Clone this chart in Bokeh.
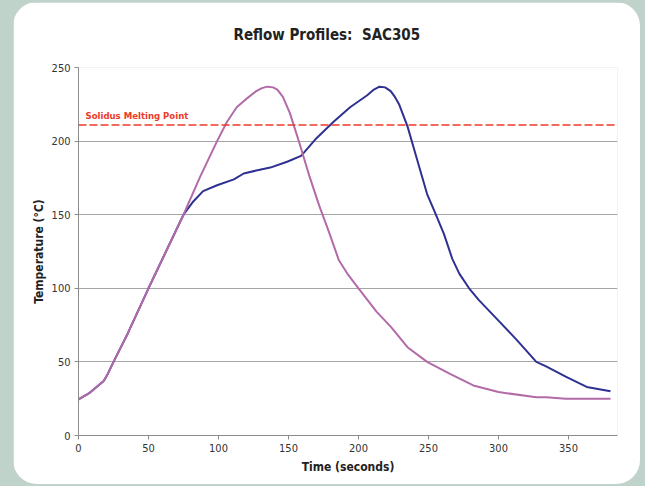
from bokeh.plotting import figure
from bokeh.layouts import column
from bokeh.models import Label, Span, FixedTicker
from bokeh.embed import file_html
from bokeh.resources import INLINE

title_text = "Reflow Profiles:\u00a0 SAC305"
x_label = "Time (seconds)"
y_label = "Temperature (\u00b0C)"
solidus_label = "Solidus Melting Point"
solidus_temp = 211

x_ticks = [0, 50, 100, 150, 200, 250, 300, 350]
y_ticks = [0, 50, 100, 150, 200, 250]

pink_t = [0, 8, 18, 21, 25, 35, 50, 63, 75, 87, 99, 106, 113, 119, 127, 131, 135, 139,
          142, 146, 151, 158, 165, 172, 179, 186, 192, 200, 213, 223, 235, 249, 265, 282,
          300, 327, 334, 348, 380]
pink_temp = [24.5, 29, 37, 42, 50, 69, 100, 126, 150, 176, 200, 213, 223, 228, 234, 236,
             237, 236.5, 235, 230, 219, 198, 176, 156, 138, 119, 110, 100, 84, 74, 60, 50,
             42, 34, 29.5, 26, 26, 25, 25]

blue_t = [0, 8, 18, 21, 25, 35, 50, 63, 75, 82, 89, 99, 111, 118, 127, 137, 149, 159,
          170, 182, 194, 206, 211, 215, 219, 223, 226, 229, 235, 242, 249, 254, 261, 267,
          272, 279, 286, 301, 313, 327, 334, 348, 363, 380]
blue_temp = [24.5, 29, 37, 42, 50, 69, 100, 126, 150, 159, 166, 170, 174, 178, 180, 182,
             186, 190, 202, 213, 223, 231, 235, 237, 236.5, 234, 230, 225, 210, 187, 164,
             153, 137, 120, 110, 100, 92, 77, 65, 50, 47, 40, 33, 30]

FONT = "DejaVu Sans Condensed"
GREEN = "#bfd3ca"
PINK = "#b26aa8"
BLUE = "#2e3192"
RED = "#ee3a2a"

p = figure(width=627, height=482, output_backend="svg", toolbar_location=None,
           x_range=(0, 385), y_range=(0, 250),
           min_border_left=65, min_border_right=23, min_border_top=65, min_border_bottom=49,
           styles={"border-radius": "24px", "overflow": "hidden"})
p.border_fill_color = "white"
p.background_fill_color = "white"
p.outline_line_color = None

p.title.text = title_text
p.title.align = "left"
p.title.offset = 155
p.title.vertical_align = "top"
p.title.standoff = 44
p.title.text_font = FONT
p.title.text_font_style = "bold"
p.title.text_font_size = "15px"
p.title.text_color = "#222222"

p.xgrid.grid_line_color = None
p.ygrid.grid_line_color = "#a6a6a6"
p.ygrid.grid_line_width = 1

for ax in (p.xaxis[0], p.yaxis[0]):
    ax.axis_line_color = "#8c8c8c"
    ax.major_tick_line_color = "#8c8c8c"
    ax.minor_tick_line_color = None
    ax.major_tick_in = 0
    ax.major_tick_out = 4
    ax.major_label_text_font = FONT
    ax.major_label_text_font_size = "11px"
    ax.major_label_text_color = "#333333"
    ax.axis_label_text_font = FONT
    ax.axis_label_text_font_size = "12px"
    ax.axis_label_text_font_style = "bold"
    ax.axis_label_text_color = "#222222"

p.xaxis.ticker = FixedTicker(ticks=x_ticks)
p.yaxis.ticker = FixedTicker(ticks=y_ticks)
p.xaxis.axis_label = x_label
p.yaxis.axis_label = y_label
p.xaxis.major_label_standoff = 4
p.xaxis.axis_label_standoff = 5
p.yaxis.major_label_standoff = 4
p.yaxis.axis_label_standoff = 3

p.line(blue_t, blue_temp, line_color=BLUE, line_width=2)
p.line(pink_t, pink_temp, line_color=PINK, line_width=2)

p.add_layout(Span(location=solidus_temp, dimension="width", line_color=RED,
                  line_width=1.5, line_dash="8 3"))
p.add_layout(Label(x=5, y=solidus_temp + 2.5, text=solidus_label, text_color=RED,
                   text_font=FONT, text_font_style="bold", text_font_size="9.5px"))

layout = column(p, styles={"background-color": GREEN, "padding": "2px 5px 2px 13px"})

open("out.html", "w").write(file_html(layout, INLINE))
